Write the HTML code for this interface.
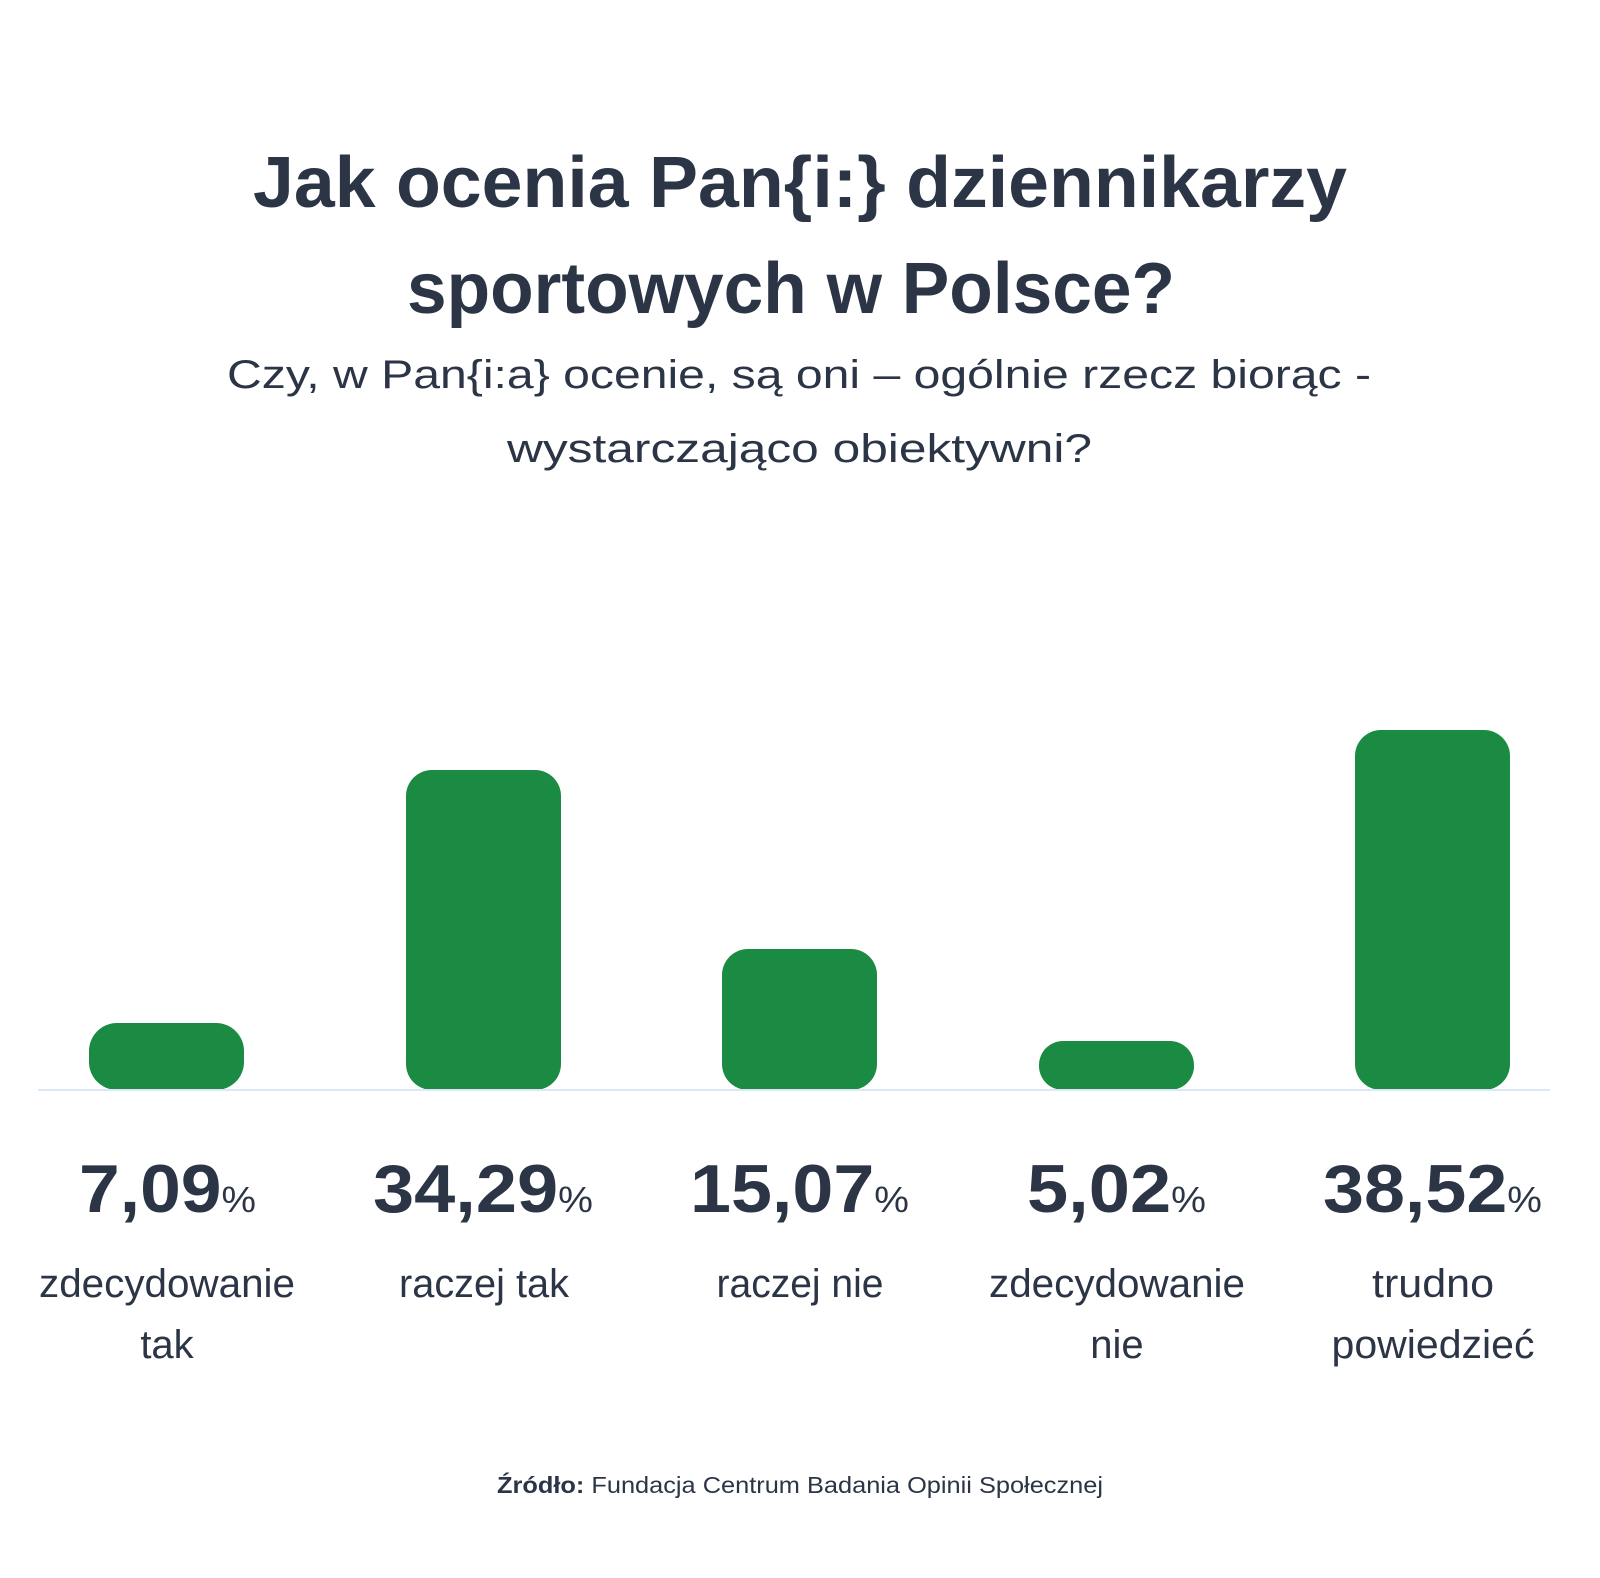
<!DOCTYPE html>
<html><head><meta charset="utf-8"><style>
html,body{margin:0;padding:0;background:#fff;}
svg{display:block;}
text{font-family:"Liberation Sans",sans-serif;fill:#2b3546;}
</style></head><body>
<svg width="1600" height="1578" viewBox="0 0 1600 1578" xmlns="http://www.w3.org/2000/svg">
<rect width="1600" height="1578" fill="#fff"/>
<text x="253" y="207" font-size="72" font-weight="bold" textLength="1094" lengthAdjust="spacingAndGlyphs">Jak ocenia Pan{i:} dziennikarzy</text>
<text x="407" y="313" font-size="72" font-weight="bold" textLength="768" lengthAdjust="spacingAndGlyphs">sportowych w Polsce?</text>
<text x="227" y="388" font-size="40" textLength="1144" lengthAdjust="spacingAndGlyphs">Czy, w Pan{i:a} ocenie, są oni – ogólnie rzecz biorąc -</text>
<text x="507" y="462" font-size="40" textLength="585" lengthAdjust="spacingAndGlyphs">wystarczająco obiektywni?</text>
<g fill="#1b8a42">
<rect x="89" y="1023" width="155" height="67" rx="28"/>
<rect x="406" y="770" width="155" height="320" rx="26"/>
<rect x="722" y="949" width="155" height="141" rx="26"/>
<rect x="1039" y="1041" width="155" height="49" rx="24"/>
<rect x="1355" y="730" width="155" height="360" rx="26"/>
</g>
<rect x="38" y="1089" width="1512" height="2" fill="#dce8f8"/>
<g font-weight="bold" font-size="68">
<text x="79" y="1212" textLength="177" lengthAdjust="spacingAndGlyphs">7,09<tspan font-size="36" font-weight="normal">%</tspan></text>
<text x="373" y="1212" textLength="220" lengthAdjust="spacingAndGlyphs">34,29<tspan font-size="36" font-weight="normal">%</tspan></text>
<text x="690" y="1212" textLength="219" lengthAdjust="spacingAndGlyphs">15,07<tspan font-size="36" font-weight="normal">%</tspan></text>
<text x="1027" y="1212" textLength="179" lengthAdjust="spacingAndGlyphs">5,02<tspan font-size="36" font-weight="normal">%</tspan></text>
<text x="1323" y="1212" textLength="219" lengthAdjust="spacingAndGlyphs">38,52<tspan font-size="36" font-weight="normal">%</tspan></text>
</g>
<g font-size="40" text-anchor="middle">
<text x="167" y="1297" textLength="256" lengthAdjust="spacingAndGlyphs">zdecydowanie</text>
<text x="167" y="1358">tak</text>
<text x="484" y="1297" textLength="170" lengthAdjust="spacingAndGlyphs">raczej tak</text>
<text x="800" y="1297" textLength="167" lengthAdjust="spacingAndGlyphs">raczej nie</text>
<text x="1117" y="1297" textLength="256" lengthAdjust="spacingAndGlyphs">zdecydowanie</text>
<text x="1117" y="1358">nie</text>
<text x="1433" y="1297" textLength="122" lengthAdjust="spacingAndGlyphs">trudno</text>
<text x="1433" y="1358" textLength="203" lengthAdjust="spacingAndGlyphs">powiedzieć</text>
</g>
<text x="497" y="1493" font-size="23" textLength="606" lengthAdjust="spacingAndGlyphs"><tspan font-weight="bold">Źródło:</tspan> Fundacja Centrum Badania Opinii Społecznej</text>
</svg>
</body></html>
